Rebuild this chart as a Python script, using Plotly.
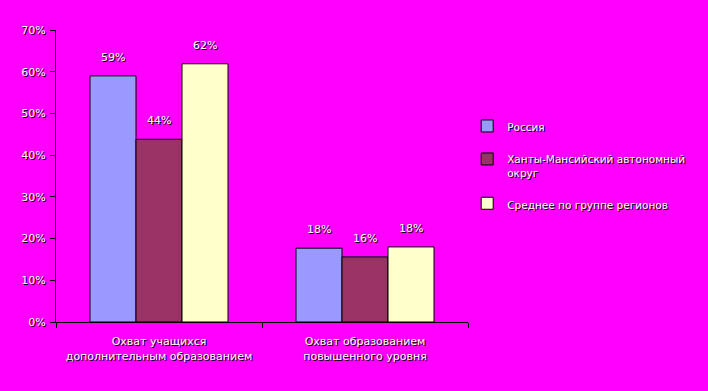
import plotly.graph_objects as go

categories = ["Охват учащихся<br>дополнительным образованием", "Охват образованием<br>повышенного уровня"]
series_names = ["Россия", "Ханты-Мансийский автономный<br>округ", "Среднее по группе регионов"]
russia = [59, 17.7]
hmao = [43.8, 15.6]
avg = [61.9, 18.0]
colors = ["#9999FF", "#993366", "#FFFFCC"]
tick_vals = [0, 10, 20, 30, 40, 50, 60, 70]
tick_text = ["0%", "10%", "20%", "30%", "40%", "50%", "60%", "70%"]

W, H = 708, 391
ML, MR, MT, MB = 56, 240, 30, 69
BARGAP = 0.33

font_family = "DejaVu Sans, Verdana, sans-serif"
shadow = "1px 1px 0px #000000"
white_font = dict(family=font_family, color="#FFFFFF", size=11, shadow=shadow)

fig = go.Figure()
series = [russia, hmao, avg]
for k, (name, vals, col) in enumerate(zip(series_names, series, colors)):
    fig.add_trace(go.Bar(
        x=categories, y=vals, name=name, legendgroup=f"g{k}",
        marker=dict(color=col, line=dict(color="#000000", width=1)),
    ))

# data labels above the bars
cat_px = (W - ML - MR) / len(categories)
bar_px = cat_px * (1 - BARGAP) / len(series)
annotations = []
for i, vals in enumerate(series):
    off = (i - (len(series) - 1) / 2) * bar_px
    for j, v in enumerate(vals):
        annotations.append(dict(
            x=categories[j], y=v, xref="x", yref="y",
            text=f"{v:.0f}%", showarrow=False,
            xanchor="center", yanchor="bottom", xshift=off, yshift=10,
            font=white_font,
        ))

fig.update_layout(
    width=W, height=H,
    paper_bgcolor="#FF00FF", plot_bgcolor="#FF00FF",
    margin=dict(l=ML, r=MR, t=MT, b=MB, autoexpand=False),
    barmode="group", bargap=BARGAP, bargroupgap=0,
    font=white_font,
    showlegend=True,
    legend=dict(x=0.998, y=0.717, xanchor="left", yanchor="top", valign="top",
                bgcolor="rgba(0,0,0,0)",
                font=dict(family=font_family, size=10.5, color="#FFFFFF", shadow=shadow),
                tracegroupgap=14, itemwidth=30),
    annotations=annotations,
)
fig.update_yaxes(range=[0, 70], tickvals=tick_vals, ticktext=tick_text,
                 showgrid=False, showline=True, linecolor="#000000", linewidth=1,
                 ticks="outside", ticklen=5, tickcolor="#000000", zeroline=False,
                 tickfont=white_font, automargin=False, ticklabelstandoff=2)
fig.update_xaxes(showgrid=False, showline=True, linecolor="#000000", linewidth=1,
                 ticks="outside", tickson="boundaries", ticklen=5, tickcolor="#000000",
                 tickfont=white_font, tickangle=0, automargin=False, ticklabelstandoff=9)

fig.write_html("out.html", config={"displayModeBar": False},
               post_script="document.body.style.margin='0px';")
